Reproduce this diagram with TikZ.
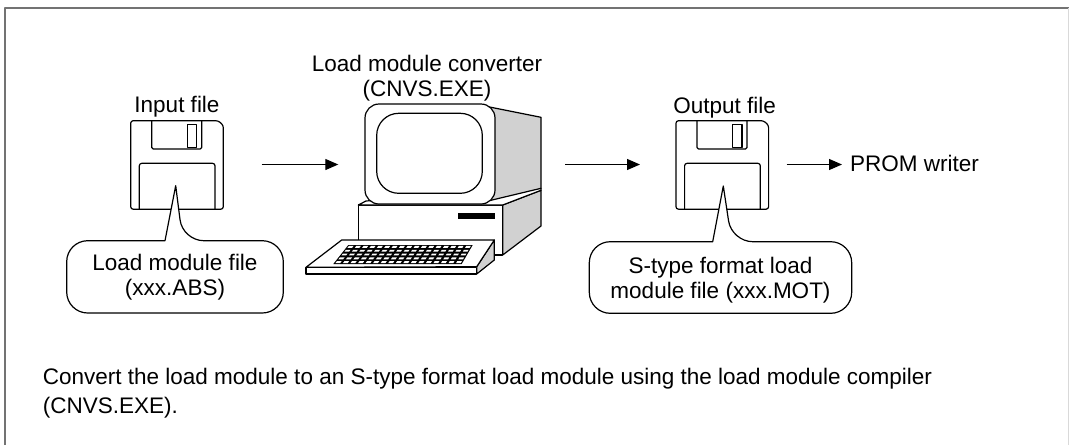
\documentclass[tikz,border=0pt]{standalone}
\usepackage{fontspec}
\setmainfont{Liberation Sans}
\usetikzlibrary{arrows.meta}
\begin{document}
\begin{tikzpicture}[x=1pt,y=-1pt,
  line join=round,
  txt/.style={font=\fontsize{22.5}{25}\selectfont, inner sep=0pt, anchor=base},
  outl/.style={draw=black, line width=1.2pt},
  sidefill/.style={fill=black!18},
  flow/.style={line width=1.2pt, -{Triangle[length=13pt,width=11pt]}},
  callout/.style={outl, fill=white, rounded corners=21pt},
  floppy/.pic={
    % body with a clipped top-right corner
    \draw[outl, fill=white, rounded corners=2.5pt]
      (0,88.5) -- (0,0) -- (87.5,0) -- (92.6,4.5) -- (92.6,88.5) -- cycle;
    % metal shutter and its slot
    \draw[outl, rounded corners=1.5pt] (21,0) -- (21,28.3) -- (71,28.3) -- (71,0);
    \draw[outl] (56.6,3.5) rectangle (66,26.6);
    % paper label
    \draw[outl, rounded corners=2.5pt] (8.6,88.5) -- (8.6,42.6) -- (84.3,42.6) -- (84.3,88.5);
  }]
\useasboundingbox (0,0) rectangle (1069,445);

% frame
\draw[draw=black!55, line width=2pt] (5,445) -- (5,7.5) -- (1069,7.5);
\draw[draw=black!15, line width=1pt] (1068.5,8) -- (1068.5,445);

% ---------- input floppy ----------
\pic at (130.7,120.7) {floppy};
\node[txt] (intitle) at (177,112) {Input file};
\coordinate (inapex) at (175.7,185.7);
\draw[callout] (165,240.7) -- (66.7,240.7) -- (66.7,313) -- (283.3,313) -- (283.3,240.7)
  -- (182.7,240.7) [sharp corners] -- (inapex) -- cycle;
\node[txt] (incall1) at (175,270) {Load module file};
\node[txt] (incall2) at (175,295) {(xxx.ABS)};

% ---------- computer ----------
\node[txt] (pc1) at (427,71) {Load module converter};
\node[txt] (pc2) at (427,96.7) {(CNVS.EXE)};
% base unit
\draw[outl, sidefill] (502.7,205) -- (541,190.3) -- (541,226) -- (502.7,255) -- cycle;
\draw[outl, fill=white] (358.3,205) rectangle (502.7,255);
\draw[outl, fill=white] (358.3,205) -- (366,201) -- (541,188.3) -- (541,190.3) -- (502.7,205) -- cycle;
\fill[black] (458.3,213.3) rectangle (495,219.3);
% monitor
\draw[outl, sidefill] (488,106.7) -- (541,117.3) -- (541,188.3) -- (490,200.5) -- cycle;
\draw[outl, fill=white, rounded corners=14pt] (365,104) rectangle (495,204);
\draw[outl, fill=white, rounded corners=22pt] (376.7,113.3) rectangle (482.3,193.3);
% keyboard
\draw[outl, sidefill] (476.7,266.7) -- (494.3,240) -- (494.3,260) -- (476.7,274) -- cycle;
\draw[outl, fill=white] (306,267.3) -- (341.7,240) -- (494.3,240) -- (476.7,266.7) -- cycle;
\draw[outl, fill=white] (306,267.3) rectangle (476.7,274);
% keys: white cells on a black slanted grid
% back edge y=245 from x=348.3 to 472.7, front edge y=264 from x=333.3 to 461.7
\fill[black] (348.3,245) -- (472.7,245) -- (461.7,264) -- (333.3,264) -- cycle;
\foreach \r in {0,...,4}{
  \foreach \c in {0,...,16}{
    \pgfmathsetmacro{\ta}{\r/5+0.05}
    \pgfmathsetmacro{\tb}{(\r+1)/5-0.05}
    \pgfmathsetmacro{\sa}{\c/17+0.011}
    \pgfmathsetmacro{\sb}{(\c+1)/17-0.011}
    \pgfmathsetmacro{\lxa}{348.3-15*\ta}
    \pgfmathsetmacro{\rxa}{472.7-11*\ta}
    \pgfmathsetmacro{\lxb}{348.3-15*\tb}
    \pgfmathsetmacro{\rxb}{472.7-11*\tb}
    \pgfmathsetmacro{\ya}{245+19*\ta}
    \pgfmathsetmacro{\yb}{245+19*\tb}
    \fill[white]
      ({\lxa+\sa*(\rxa-\lxa)},\ya) --
      ({\lxa+\sb*(\rxa-\lxa)},\ya) --
      ({\lxb+\sb*(\rxb-\lxb)},\yb) --
      ({\lxb+\sa*(\rxb-\lxb)},\yb) -- cycle;
  }
}

% ---------- output floppy ----------
\pic at (676,120.7) {floppy};
\node[txt] (outtitle) at (724.7,113) {Output file};
\coordinate (outapex) at (723.3,186);
\draw[callout] (712.7,241.7) -- (589.3,241.7) -- (589.3,313.3) -- (851.7,313.3) -- (851.7,241.7)
  -- (731.7,241.7) [sharp corners] -- (outapex) -- cycle;
\node[txt] (outcall1) at (720.5,273.3) {S-type format load};
\node[txt] (outcall2) at (720.5,298.3) {module file (xxx.MOT)};

\node[txt, anchor=base west] (prom) at (850,171.7) {PROM writer};

% ---------- flow arrows ----------
\coordinate (a1s) at (261.7,164.5);
\coordinate (a1e) at (338.3,164.5);
\coordinate (a2s) at (565,164.5);
\coordinate (a2e) at (640,164.5);
\coordinate (a3s) at (786.7,164.5);
\draw[flow] (a1s) -- (a1e);
\draw[flow] (a2s) -- (a2e);
\draw[flow, shorten >=8pt] (a3s) -- (a3s -| prom.west);

% ---------- caption ----------
\node[txt, anchor=base west] (cap1) at (42.7,384)
  {Convert the load module to an S-type format load module using the load module compiler};
\node[txt, anchor=base west] (cap2) at (42.7,413) {(CNVS.EXE).};
\end{tikzpicture}
\end{document}
